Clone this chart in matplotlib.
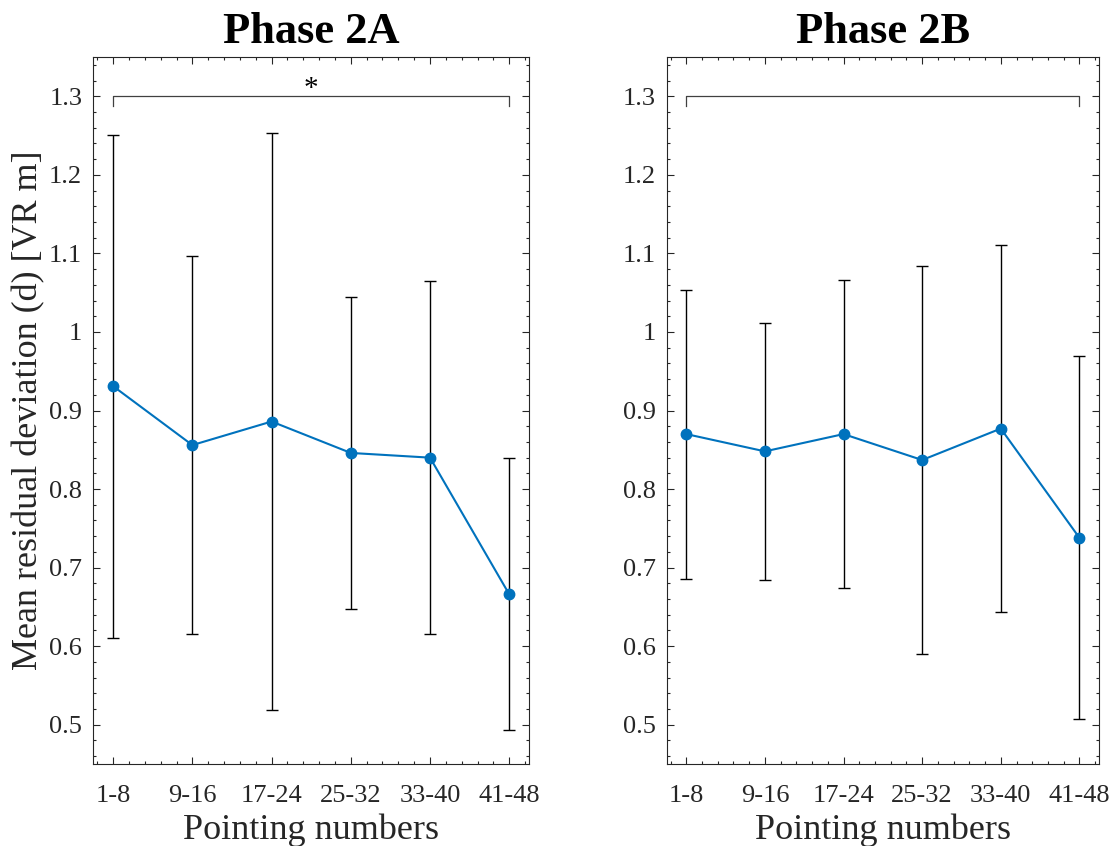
import numpy as np
import matplotlib
matplotlib.use("Agg")
import matplotlib.pyplot as plt
from matplotlib.ticker import MultipleLocator, FuncFormatter

plt.rcParams['font.family'] = ['Liberation Serif', 'DejaVu Serif']

# ---- data ----
groups = ["1-8", "9-16", "17-24", "25-32", "33-40", "41-48"]

mean_2a = [0.931, 0.856, 0.886, 0.846, 0.840, 0.666]
sd_2a = [0.320, 0.241, 0.367, 0.199, 0.225, 0.173]

mean_2b = [0.870, 0.848, 0.870, 0.837, 0.877, 0.738]
sd_2b = [0.184, 0.164, 0.196, 0.247, 0.234, 0.231]

titles = ["Phase 2A", "Phase 2B"]
sig_marks = ["*", ""]

# ---- style ----
blue = "#0072BD"
axis_col = "#262626"

fig = plt.figure(figsize=(11.15, 8.46), dpi=100)
ax_a = fig.add_axes([0.0837, 0.0969, 0.3908, 0.8357])
ax_b = fig.add_axes([0.5979, 0.0969, 0.3878, 0.8357])

x = np.arange(1, len(groups) + 1)

for ax, m, s, title, mark in zip([ax_a, ax_b], [mean_2a, mean_2b],
                                 [sd_2a, sd_2b], titles, sig_marks):
    # error bars first, blue line with dots on top
    ax.errorbar(x, m, yerr=s, fmt="none", ecolor="black", elinewidth=1.0,
                capsize=4.5, capthick=1.0, zorder=2)
    ax.plot(x, m, "-o", color=blue, lw=1.5, ms=7.5, zorder=3)

    # comparison bracket between first and last block
    y0, drop = 1.3, 0.012
    ax.plot([x[0], x[0], x[-1], x[-1]], [y0 - drop, y0, y0, y0 - drop],
            color="#404040", lw=0.9, zorder=2)
    if mark:
        ax.text((x[0] + x[-1]) / 2, y0 - 0.007, mark, ha="center", va="bottom",
                fontsize=21, color="black")

    ax.set_xlim(0.75, 6.25)
    ax.set_ylim(0.45, 1.35)
    ax.set_xticks(x)
    ax.set_xticklabels(groups)
    ax.set_yticks(np.arange(0.5, 1.31, 0.1))
    ax.yaxis.set_major_formatter(FuncFormatter(lambda v, p: "%g" % round(v, 2)))
    ax.xaxis.set_minor_locator(MultipleLocator(0.2))
    ax.yaxis.set_minor_locator(MultipleLocator(0.02))

    ax.tick_params(which="both", direction="in", top=True, right=True,
                   colors=axis_col, labelsize=19, width=0.8)
    ax.tick_params(which="major", length=5)
    ax.tick_params(which="minor", length=2.5)
    ax.tick_params(axis="x", which="major", pad=15)
    ax.tick_params(axis="y", which="major", pad=8)
    for sp in ax.spines.values():
        sp.set_color(axis_col)
        sp.set_linewidth(0.8)

    ax.set_title(title, fontsize=32, fontweight="bold", pad=10)
    ax.set_xlabel("Pointing numbers", fontsize=26, color=axis_col, labelpad=5)

ax_a.set_ylabel("Mean residual deviation (d) [VR m]", fontsize=26,
                color=axis_col, labelpad=3)

fig.savefig("out.png", dpi=100)
